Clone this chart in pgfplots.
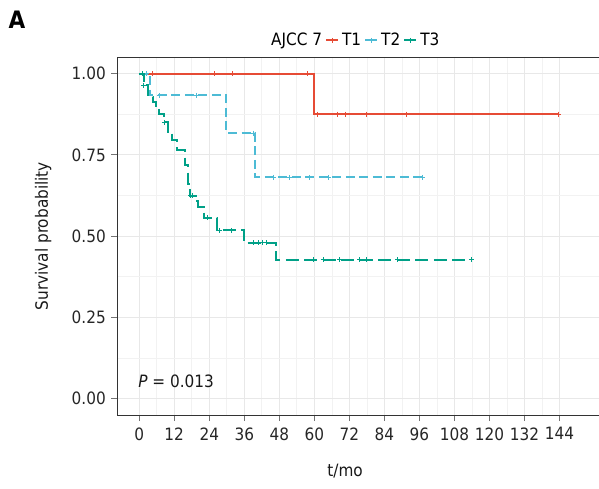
\documentclass[border=0pt]{standalone}
\usepackage{fontspec}
\setmainfont{DejaVu Sans}[FakeStretch=0.9]
\usepackage{pgfplots}
\pgfplotsset{compat=1.18}
\definecolor{cT1}{HTML}{E64B35}
\definecolor{cT2}{HTML}{4DBBD5}
\definecolor{cT3}{HTML}{00A087}
\definecolor{axgrey}{HTML}{333333}
\newcommand\fs{\fontsize{17}{20}\selectfont}
\begin{document}
\begin{tikzpicture}[x=1pt,y=1pt]
\useasboundingbox (0,0) rectangle (599,488);
\node[font=\fontsize{24}{27}\selectfont\bfseries] at (17,468) {A};
\begin{axis}[
  at={(117.3pt,73pt)}, anchor=south west,
  scale only axis, width=481.7pt, height=357.7pt,
  xmin=-7.5, xmax=157.5, ymin=-0.05, ymax=1.05,
  axis x line*=box, axis y line*=left,
  axis line style={color=axgrey, line width=0.9pt},
  xtick={0,12,...,144}, ytick={0,0.25,0.5,0.75,1},
  yticklabels={0.00,0.25,0.50,0.75,1.00},
  minor x tick num=1, minor y tick num=1,
  xtick pos=bottom,
  tick align=outside, major tick length=6pt, minor tick length=0pt,
  every tick/.style={color=black!55, line width=0.9pt},
  grid=both,
  major grid style={color=black!9, line width=1pt},
  minor grid style={color=black!5, line width=0.7pt},
  /pgf/number format/assume math mode=true,
  tick label style={font=\fs, color=black!85},
  xticklabel style={yshift=-3pt},
  yticklabel style={xshift=-2pt},
  xlabel={t/mo}, ylabel={Survival probability},
  label style={font=\fs, color=black!90},
  xlabel style={at={(axis description cs:0.473,-0.157)}, anchor=center},
  ylabel style={at={(axis description cs:-0.154,0.5)}, anchor=center},
  legend columns=-1,
  legend style={at={(axis description cs:0.493,1)}, anchor=center, yshift=17pt,
    draw=none, fill=none, font=\fs, column sep=1pt,
    /tikz/every even column/.append style={column sep=1pt}},
  legend image code/.code={\draw[mark repeat=2,mark phase=2,#1] plot coordinates {(0pt,0pt)(6pt,0pt)(12pt,0pt)};},
  mark options={solid, line width=1pt},
]
\addlegendimage{empty legend}
\addlegendentry{AJCC 7}
\addlegendimage{cT1, line width=2pt, mark=+, mark size=2.5pt}
\addlegendentry{T1}
\addlegendimage{cT2, line width=2pt, mark=+, mark size=2.5pt}
\addlegendentry{T2}
\addlegendimage{cT3, line width=2pt, mark=+, mark size=2.5pt}
\addlegendentry{T3}

% T1
\addplot[forget plot, const plot, cT1, line width=2pt] coordinates {
(0,1) (59.8,0.875) (143.6,0.875)};
\addplot[forget plot, only marks, cT1, mark=+, mark size=2.5pt] coordinates {
(4.4,1) (25.9,1) (31.8,1) (57.8,1) (61,0.875) (67.8,0.875) (70.7,0.875) (78,0.875) (91.7,0.875) (143.6,0.875)};
% T2
\addplot[forget plot, const plot, cT2, line width=2pt, dash pattern=on 9pt off 4.5pt] coordinates {
(0,1) (3.7,0.933) (29.9,0.817) (39.8,0.681) (97.2,0.681)};
\addplot[forget plot, only marks, cT2, mark=+, mark size=2.5pt] coordinates {
(2.5,1) (7.1,0.933) (19.6,0.933) (39,0.817) (45.9,0.681) (51.6,0.681) (58.4,0.681) (65,0.681) (97.2,0.681)};
% T3
\addplot[forget plot, const plot, cT3, line width=2pt, dash pattern=on 13pt off 5.5pt] coordinates {
(0,1) (1.6,0.964) (3.1,0.929) (4.8,0.911) (5.7,0.893) (6.9,0.875) (8.6,0.85) (9.7,0.82) (11.1,0.795) (12.8,0.765) (15.6,0.72) (16.8,0.66) (17.5,0.625) (19.3,0.607) (20.2,0.59) (22.1,0.557) (26.7,0.518) (35.8,0.48) (46.8,0.427) (113.8,0.427)};
\addplot[forget plot, only marks, cT3, mark=+, mark size=2.5pt] coordinates {
(1.0,1) (1.6,0.964) (8.6,0.85) (17.6,0.625) (18.3,0.625) (23.5,0.557) (27.6,0.518) (31.7,0.518) (39,0.48) (41,0.48) (42.2,0.48) (43.6,0.48) (59.6,0.427) (63,0.427) (68.7,0.427) (75.5,0.427) (77.8,0.427) (88.6,0.427) (113.8,0.427)};

\node[anchor=west, font=\fs, color=black!90] at (axis cs:-1.5,0.055) {\textit{P} = 0.013};
\end{axis}
\end{tikzpicture}
\end{document}
